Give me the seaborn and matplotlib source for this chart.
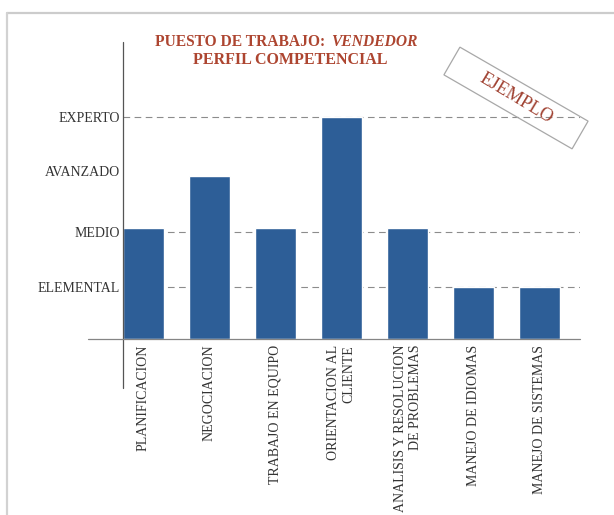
import matplotlib
matplotlib.use("Agg")
import matplotlib.pyplot as plt
import matplotlib.patches as mpatches
import seaborn as sns
import pandas as pd

# competencias y nivel requerido (escala lineal del dibujo)
competencias = ["PLANIFICACION", "NEGOCIACION", "TRABAJO EN EQUIPO",
                "ORIENTACION AL\nCLIENTE", "ANALISIS Y RESOLUCION\nDE PROBLEMAS",
                "MANEJO DE IDIOMAS", "MANEJO DE SISTEMAS"]
nivel = [2.0, 2.94, 2.0, 4.0, 2.0, 0.95, 0.95]
niveles_txt = ["ELEMENTAL", "MEDIO", "AVANZADO", "EXPERTO"]
niveles_val = [0.95, 1.93, 3.03, 4.0]
lineas_guia = [0.95, 1.93, 4.0]

df = pd.DataFrame({"competencia": competencias, "nivel": nivel})

sns.set_style("white")
plt.rcParams["font.family"] = ["Liberation Serif", "DejaVu Serif"]

W, H = 614, 515
fig = plt.figure(figsize=(W / 100, H / 100), dpi=100)
ax = fig.add_axes([122.7 / W, 1 - 339.3 / H, (580 - 122.7) / W, (339.3 - 42) / H])

sns.barplot(data=df, x="competencia", y="nivel", color="#2d5e97",
            width=0.625, saturation=1, ax=ax, zorder=3)

ax.set_xlim(-0.31, 6.61)
ax.set_ylim(0, 5.35)
for s in ax.spines.values():
    s.set_visible(False)

for v in lineas_guia:
    ax.axhline(v, color="#8c8c8c", lw=0.8, ls=(0, (6, 4)), zorder=1)

# ejes dibujados a mano (sobresalen del area)
ax.plot([-0.31, -0.31], [-0.88, 5.35], color="#555555", lw=0.9, clip_on=False, zorder=4)
ax.plot([-0.83, 6.61], [0, 0], color="#858585", lw=0.9, clip_on=False, zorder=4)

ax.set_yticks(niveles_val)
ax.set_yticklabels(niveles_txt, fontsize=10, color="#333333")
ax.tick_params(axis="y", length=0, pad=2)
ax.tick_params(axis="x", length=0, pad=4)
ax.set_xticks(range(len(competencias)))
ax.set_xticklabels(competencias, rotation=90, fontsize=10, color="#333333",
                   va="top", ha="center", multialignment="right")
ax.set_xlabel("")
ax.set_ylabel("")

rojo = "#ad4530"
fig.text(329 / W, 1 - 42 / H, "PUESTO DE TRABAJO: ", ha="right", va="center",
         fontsize=11.2, fontweight="bold", color=rojo)
fig.text(331 / W, 1 - 42 / H, "VENDEDOR", ha="left", va="center",
         fontsize=11.2, fontweight="bold", fontstyle="italic", color=rojo)
fig.text(290 / W, 1 - 60 / H, "PERFIL COMPETENCIAL", ha="center", va="center",
         fontsize=11.5, fontweight="bold", color=rojo)

# sello EJEMPLO
cx, cy = 5.16, (H - 98) / 100
rect = mpatches.Rectangle((cx - 0.74, cy - 0.16), 1.48, 0.32, angle=-30,
                          rotation_point="center", fill=False, ec="#a8a8a8",
                          lw=0.9, transform=fig.dpi_scale_trans)
fig.add_artist(rect)
fig.text(cx, cy, "EJEMPLO", transform=fig.dpi_scale_trans, rotation=-31,
         rotation_mode="anchor", ha="center", va="center", fontsize=13.5,
         color="#a04232")

# marco de la imagen
fig.add_artist(plt.Line2D([7 / W, 1], [1 - 13 / H, 1 - 13 / H], color="#cccccc", lw=1.6))
fig.add_artist(plt.Line2D([7 / W, 7 / W], [1 - 13 / H, 0], color="#d2d2d2", lw=1.6))

fig.savefig("out.png", dpi=100)
